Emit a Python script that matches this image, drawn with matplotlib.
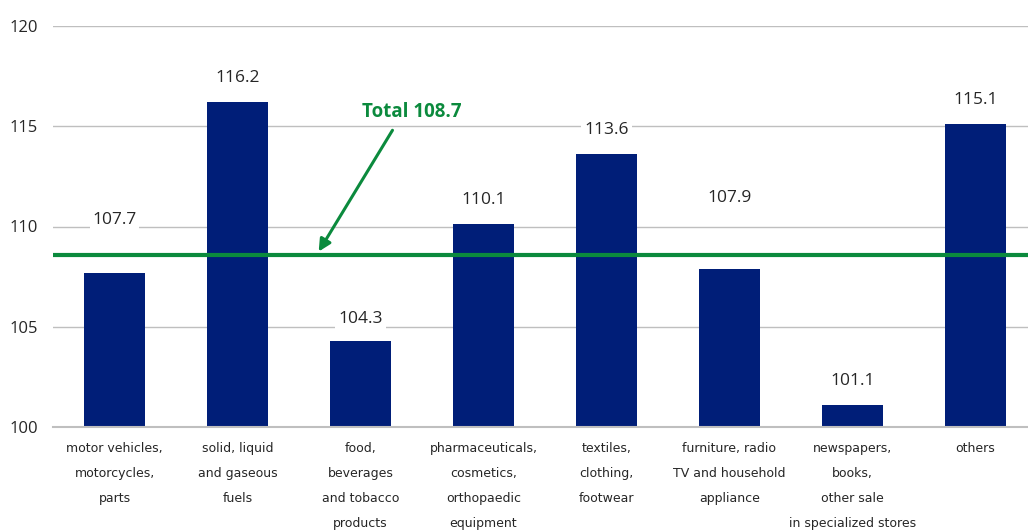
import matplotlib
matplotlib.use("Agg")
import matplotlib.pyplot as plt

categories = [
    "motor vehicles,\nmotorcycles,\nparts",
    "solid, liquid\nand gaseous\nfuels",
    "food,\nbeverages\nand tobacco\nproducts",
    "pharmaceuticals,\ncosmetics,\northopaedic\nequipment",
    "textiles,\nclothing,\nfootwear",
    "furniture, radio\nTV and household\nappliance",
    "newspapers,\nbooks,\nother sale\nin specialized stores",
    "others",
]
values = [107.7, 116.2, 104.3, 110.1, 113.6, 107.9, 101.1, 115.1]
total_label = "Total 108.7"
total_line = 108.6
y_ticks = [100, 105, 110, 115, 120]

# label offsets above bar tops (some moved up to clear the total line)
label_offset = [2.6, 1.2, 1.1, 1.2, 1.2, 3.5, 1.2, 1.2]

BAR = "#001E78"
GREEN = "#0B8A3D"
GRID = "#BFBFBF"

fig = plt.figure(figsize=(10.28, 5.32), dpi=100)
ax = fig.add_axes([53 / 1028, 1 - 427 / 532, 984 / 1028, (427 - 26) / 532])

x = range(len(values))
ax.bar(x, [v - 100 for v in values], bottom=100, width=0.5, color=BAR, zorder=2)

ax.axhline(total_line, color=GREEN, lw=3, zorder=3)

for i, v in enumerate(values):
    ax.text(i, v + label_offset[i], f"{v:.1f}", ha="center", va="center",
            fontsize=12.5, family="Open Sans", color="#262626", zorder=4,
            bbox=dict(facecolor="white", edgecolor="none", pad=2))

ax.text(2.42, 115.7, total_label, ha="center", va="center", fontsize=13.5,
        family="Open Sans", fontweight="bold", color=GREEN)
ax.annotate("", xy=(1.66, 108.75), xytext=(2.26, 114.8),
            arrowprops=dict(arrowstyle="-|>", color=GREEN, lw=2.2,
                            mutation_scale=18, shrinkA=0, shrinkB=0))

ax.set_xlim(-0.5, 7.5)
ax.set_ylim(100, 120)
ax.set_yticks(y_ticks)
ax.set_yticklabels([str(t) for t in y_ticks], fontsize=12,
                   family="Open Sans", color="#262626")
ax.set_xticks(list(x))
ax.set_xticklabels(categories, fontsize=9, color="#262626", linespacing=2.2,
                   va="top")
ax.tick_params(axis="both", length=0)
ax.tick_params(axis="y", pad=11)
ax.tick_params(axis="x", pad=11)
ax.yaxis.grid(True, color=GRID, lw=1)
ax.set_axisbelow(True)
for s in ["top", "right", "left"]:
    ax.spines[s].set_visible(False)
ax.spines["bottom"].set_color(GRID)
ax.spines["bottom"].set_linewidth(1.5)

fig.savefig("out.png", dpi=100)
